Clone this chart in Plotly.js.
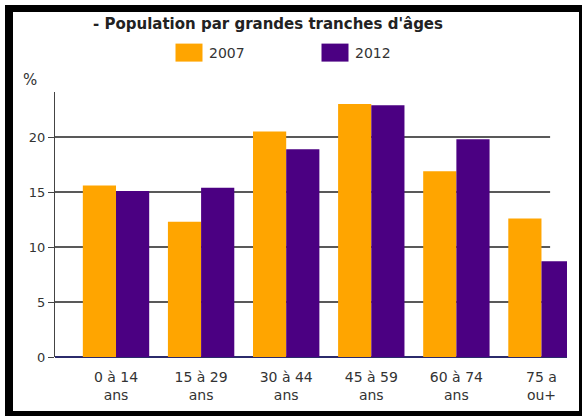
<!DOCTYPE html>
<html><head><meta charset="utf-8">
<script src="https://cdn.plot.ly/plotly-3.0.1.min.js"></script>
<style>
html,body{margin:0;padding:0;background:#fff;}
#wrap{position:relative;width:582px;height:416px;overflow:hidden;}
#chart{position:absolute;left:0;top:0;width:582px;height:416px;}
#frame{position:absolute;left:5px;top:5px;width:577px;height:411px;box-sizing:border-box;border-style:solid;border-color:#000;border-width:7px 3px 5px 8px;pointer-events:none;}
</style></head>
<body><div id="wrap"><div id="chart"></div><div id="frame"></div></div>
<script>
const categories = ['0 à 14<br>ans','15 à 29<br>ans','30 à 44<br>ans','45 à 59<br>ans','60 à 74<br>ans','75 a<br>ou+'];
const values2007 = [15.6, 12.3, 20.5, 23.0, 16.9, 12.6];
const values2012 = [15.1, 15.4, 18.9, 22.9, 19.8, 8.7];
const seriesNames = ['2007', '2012'];
const seriesColors = ['#FFA500', '#4B0082'];
const tickValues = [0, 5, 10, 15, 20];
const chartTitle = "- Population par grandes tranches d'âges";
const yUnit = '%';

const font = 'DejaVu Sans, Verdana, sans-serif';

const traces = [values2007, values2012].map((v, i) => ({
  type: 'bar',
  x: categories,
  y: v,
  name: seriesNames[i],
  marker: {color: seriesColors[i], line: {width: 0}},
  hoverinfo: 'none'
}));

const gridShapes = tickValues.filter(t => t !== 0).map(t => ({
  type: 'line', xref: 'paper', yref: 'y', x0: 0, x1: 0.967, y0: t, y1: t,
  line: {color: '#222', width: 1.5}, layer: 'below'
}));

const layout = {
  width: 582, height: 416,
  margin: {l: 55, r: 15, t: 92, b: 59, pad: 0},
  paper_bgcolor: '#fff', plot_bgcolor: 'rgba(0,0,0,0)',
  font: {family: font, size: 13, color: '#333'},
  title: {text: chartTitle, font: {family: font, size: 15, color: '#222', weight: 'bold'},
          x: 268/582, xanchor: 'center', xref: 'container', y: 1 - 24/416, yanchor: 'middle', yref: 'container'},
  showlegend: true,
  legend: {orientation: 'h', xref: 'container', yref: 'container', x: 169/582, xanchor: 'left',
           y: 1 - 53/416, yanchor: 'middle', font: {size: 14, color: '#333'},
           entrywidth: 101, entrywidthmode: 'pixels', bgcolor: 'rgba(0,0,0,0)'},
  barmode: 'group', bargap: 0.22, bargroupgap: 0,
  xaxis: {type: 'category', range: [-0.717, 5.30], showgrid: false, showline: false, zeroline: false,
          ticks: '', ticklabelstandoff: 10, tickfont: {size: 14, color: '#333'}, fixedrange: true},
  yaxis: {range: [0, 24.1], tickvals: tickValues, ticktext: tickValues.map(String), showgrid: false,
          showline: true, linecolor: '#444', linewidth: 1,
          zeroline: true, zerolinecolor: '#2b2b6b', zerolinewidth: 1.5,
          ticks: 'outside', ticklen: 6, tickcolor: '#444', tickwidth: 1,
          tickfont: {size: 13, color: '#333'}, fixedrange: true},
  shapes: gridShapes,
  annotations: [{text: yUnit, xref: 'paper', yref: 'paper', x: (30 - 55) / 512, y: (357 - 80) / 265,
                 xanchor: 'center', yanchor: 'middle', showarrow: false, font: {size: 15, color: '#333'}}]
};

Plotly.newPlot('chart', traces, layout, {displayModeBar: false, staticPlot: true}).then(gd => {
  // enlarge legend swatches to match the reference's 27x18 boxes
  gd.querySelectorAll('.legend .legendpoints path').forEach(p => {
    p.setAttribute('d', 'M13.5,9H-13.5V-9H13.5Z');
  });
});
</script></body></html>
